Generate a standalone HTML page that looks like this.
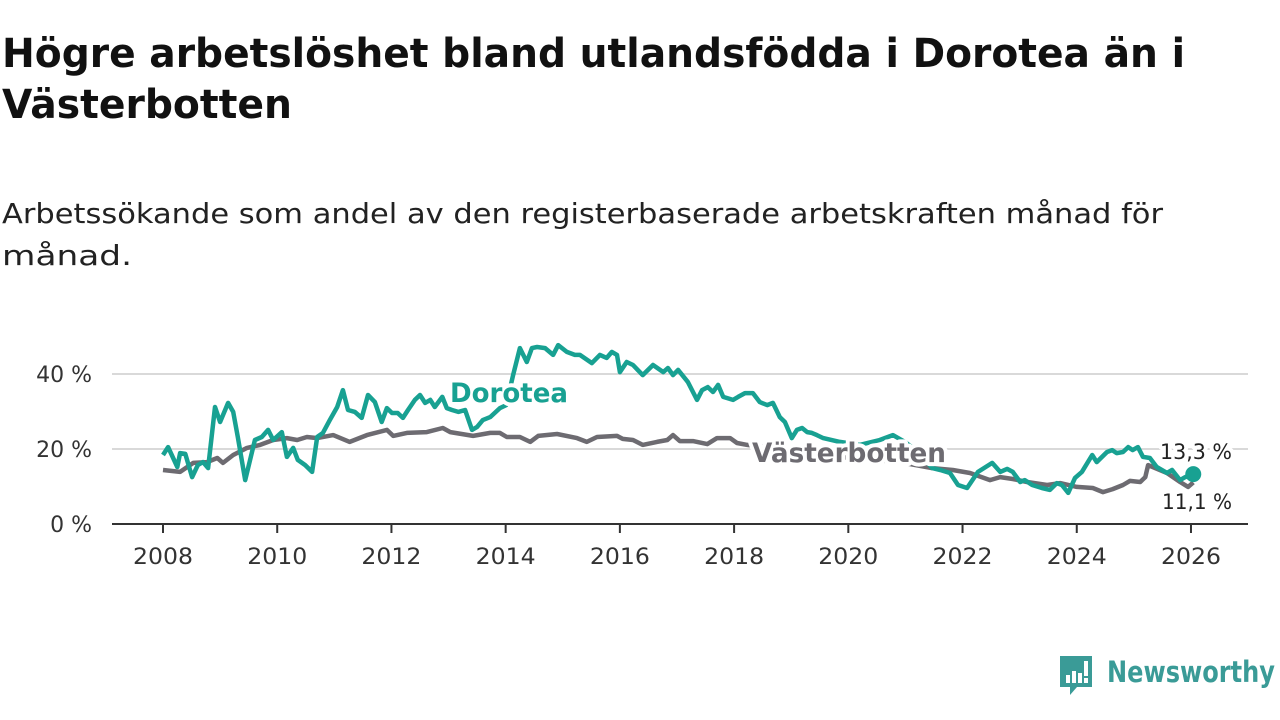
<!DOCTYPE html>
<html><head><meta charset="utf-8"><style>
body{margin:0;width:1280px;height:720px;background:#fff;font-family:"DejaVu Sans","Liberation Sans",sans-serif;overflow:hidden;position:relative}
svg{position:absolute;left:0;top:0}
</style></head><body>
<svg id="chart" width="1280" height="720">
<text x="2" y="67" font-size="40" font-weight="bold" fill="#111" textLength="1183" lengthAdjust="spacingAndGlyphs" font-family="DejaVu Sans, sans-serif">Högre arbetslöshet bland utlandsfödda i Dorotea än i</text>
<text x="2" y="118" font-size="40" font-weight="bold" fill="#111" textLength="290" lengthAdjust="spacingAndGlyphs" font-family="DejaVu Sans, sans-serif">Västerbotten</text>
<text x="2" y="223" font-size="28" fill="#222" textLength="1161" lengthAdjust="spacingAndGlyphs" font-family="DejaVu Sans, sans-serif">Arbetssökande som andel av den registerbaserade arbetskraften månad för</text>
<text x="2" y="265" font-size="28" fill="#222" textLength="130" lengthAdjust="spacingAndGlyphs" font-family="DejaVu Sans, sans-serif">månad.</text>
</svg>
<div style="position:absolute;left:1058px;top:653px;width:222px;height:45px">
<svg width="40" height="44" style="position:absolute;left:0;top:0"><path d="M2 3h32v31h-15l-7 8v-8h-10z" fill="#3a9b97"/><rect x="8" y="22" width="4" height="8" fill="#fff"/><rect x="14" y="18" width="4" height="12" fill="#fff"/><rect x="20" y="20" width="4" height="10" fill="#fff"/><rect x="26" y="8" width="4" height="15" fill="#fff"/><rect x="26" y="25" width="4" height="5" fill="#fff"/></svg>
<svg width="180" height="45" style="position:absolute;left:48px;top:0"><text x="1" y="29" font-size="29" font-weight="bold" fill="#3a9b97" textLength="168" lengthAdjust="spacingAndGlyphs" font-family="DejaVu Sans, sans-serif">Newsworthy</text></svg>
</div>
<script>
const yearTicks=[2008,2010,2012,2014,2016,2018,2020,2022,2024,2026];
const valueTicks=[0,20,40];
const doroteaDates=[2008.0,2008.09,2008.25,2008.30,2008.39,2008.51,2008.61,2008.70,2008.79,2008.91,2009.00,2009.14,2009.23,2009.31,2009.44,2009.61,2009.73,2009.84,2009.93,2010.08,2010.17,2010.28,2010.36,2010.49,2010.61,2010.70,2010.80,2010.92,2011.05,2011.15,2011.24,2011.36,2011.48,2011.59,2011.71,2011.83,2011.92,2012.01,2012.11,2012.20,2012.29,2012.41,2012.50,2012.59,2012.68,2012.76,2012.89,2012.97,2013.06,2013.17,2013.29,2013.41,2013.50,2013.60,2013.73,2013.90,2014.01,2014.13,2014.25,2014.37,2014.46,2014.55,2014.69,2014.83,2014.92,2015.07,2015.21,2015.30,2015.51,2015.65,2015.77,2015.86,2015.95,2016.00,2016.12,2016.23,2016.40,2016.58,2016.76,2016.84,2016.93,2017.02,2017.19,2017.35,2017.44,2017.54,2017.63,2017.72,2017.81,2017.98,2018.07,2018.19,2018.33,2018.45,2018.58,2018.68,2018.80,2018.89,2019.01,2019.10,2019.19,2019.28,2019.36,2019.45,2019.56,2019.85,2020.20,2020.55,2020.78,2020.99,2021.22,2021.47,2021.61,2021.78,2021.92,2022.08,2022.27,2022.52,2022.66,2022.78,2022.88,2023.01,2023.09,2023.22,2023.39,2023.53,2023.65,2023.74,2023.85,2023.97,2024.09,2024.27,2024.35,2024.53,2024.62,2024.70,2024.81,2024.90,2024.98,2025.07,2025.16,2025.28,2025.40,2025.58,2025.67,2025.81,2025.90,2026.04];
const doroteaValues=[18.4,20.5,15.2,18.9,18.7,12.5,15.7,16.5,14.9,31.2,27.2,32.3,29.9,23.2,11.7,22.4,23.2,25.1,22.4,24.5,17.9,20.3,17.1,15.7,13.9,23.2,24.3,27.7,31.2,35.7,30.4,29.9,28.3,34.4,32.5,27.2,30.9,29.6,29.6,28.3,30.4,33.1,34.4,32.3,33.1,31.2,33.9,30.9,30.4,29.9,30.4,25.1,25.9,27.7,28.5,30.9,31.7,39.7,46.9,43.2,46.9,47.2,46.9,45.1,47.7,45.9,45.1,45.1,42.9,45.1,44.3,45.9,45.1,40.5,43.2,42.4,39.7,42.4,40.5,41.6,39.7,41.1,37.9,33.1,35.7,36.5,35.2,37.1,33.9,33.1,33.9,34.9,34.9,32.5,31.7,32.3,28.5,27.2,22.9,25.1,25.6,24.5,24.3,23.7,22.9,21.9,21.1,22.4,23.7,21.9,19.2,14.9,14.4,13.6,10.4,9.6,13.9,16.3,13.9,14.7,13.9,11.2,11.7,10.4,9.6,9.1,10.9,10.4,8.3,12.3,13.9,18.4,16.5,19.2,19.7,18.9,19.2,20.5,19.7,20.5,17.9,17.6,15.2,13.6,14.4,11.7,12.5,13.3];
const vbDates=[2008.0,2008.30,2008.53,2008.77,2008.95,2009.05,2009.23,2009.47,2009.70,2009.93,2010.17,2010.35,2010.52,2010.70,2010.98,2011.27,2011.57,2011.92,2012.03,2012.27,2012.62,2012.90,2013.03,2013.43,2013.73,2013.90,2014.02,2014.25,2014.43,2014.57,2014.90,2015.25,2015.42,2015.60,2015.95,2016.05,2016.23,2016.40,2016.65,2016.83,2016.93,2017.05,2017.28,2017.53,2017.70,2017.93,2018.05,2018.23,2019.15,2020.03,2020.90,2021.47,2021.83,2022.13,2022.48,2022.66,2022.88,2023.13,2023.48,2023.71,2024.00,2024.28,2024.46,2024.63,2024.81,2024.93,2025.11,2025.20,2025.25,2025.33,2025.58,2025.81,2025.95,2026.04];
const vbValues=[14.4,13.9,16.3,16.5,17.6,16.3,18.4,20.3,21.1,22.4,22.9,22.4,23.2,22.9,23.7,21.9,23.7,25.1,23.5,24.3,24.5,25.6,24.5,23.5,24.3,24.3,23.2,23.2,21.9,23.5,24.0,22.9,21.9,23.2,23.5,22.7,22.4,21.1,21.9,22.4,23.7,22.1,22.1,21.3,22.9,22.9,21.6,21.1,19.2,17.6,16.5,14.9,14.4,13.6,11.7,12.5,12.0,11.2,10.4,10.9,9.9,9.6,8.5,9.3,10.4,11.5,11.2,12.5,15.7,15.2,13.6,11.2,9.9,11.1];
const NS="http://www.w3.org/2000/svg";
const svg=document.getElementById('chart');
const X=y=>163+(y-2008)*57.11;
const Y=v=>524-v*3.75;
function mk(tag,attrs,parent){const e=document.createElementNS(NS,tag);for(const k in attrs)e.setAttribute(k,attrs[k]);(parent||svg).appendChild(e);return e;}
valueTicks.forEach(v=>{
 if(v>0){const g=mk('line',{x1:112,x2:1248,y1:Y(v),y2:Y(v),stroke:'#d9d9d9','stroke-width':2});
 
 }
 const t=mk('text',{x:92,y:Y(v)+8,'text-anchor':'end','font-size':22,fill:'#333','font-family':'DejaVu Sans, sans-serif'});
 t.textContent=v+' %';
 
 
});
yearTicks.forEach(y=>{
 const l=mk('line',{x1:X(y),x2:X(y),y1:524,y2:533,stroke:'#333','stroke-width':2});
 
 
 const t=mk('text',{x:X(y)-30,y:564,'font-size':22,fill:'#333','font-family':'DejaVu Sans, sans-serif',textLength:60,lengthAdjust:'spacingAndGlyphs'});
 t.textContent=y;
 
 
});
const ax=mk('line',{x1:112,x2:1248,y1:524,y2:524,stroke:'#333','stroke-width':2});


function path(dates,vals,color,name){
 const d=dates.map((t,i)=>(i?'L':'M')+X(t).toFixed(1)+','+Y(vals[i]).toFixed(1)).join('');
 const p=mk('path',{d:d,fill:'none',stroke:color,'stroke-width':4.5,'stroke-linejoin':'round'});
 
 
}
path(vbDates,vbValues,'#6d6b71','vasterbotten-line');
path(doroteaDates,doroteaValues,'#18a192','dorotea-line');
const dot=mk('circle',{cx:X(doroteaDates[doroteaDates.length-1]),cy:Y(doroteaValues[doroteaValues.length-1]),r:8,fill:'#18a192'});


function label(x,y,txt,color,size,weight,w,name){
 const t=mk('text',{x:x,y:y,'font-size':size,'font-weight':weight,fill:color,stroke:'#fff','stroke-width':8,'paint-order':'stroke','stroke-linejoin':'round','font-family':'DejaVu Sans, sans-serif',textLength:w,lengthAdjust:'spacingAndGlyphs'});
 t.textContent=txt;
 
 
}
label(450,402,'Dorotea','#18a192',27,'bold',118,'dorotea-label');
label(752,462,'Västerbotten','#6d6b71',27,'bold',194,'vasterbotten-label');
label(1160,459,'13,3 %','#222',21,'normal',72,'dorotea-end-value');
label(1162,509,'11,1 %','#222',21,'normal',70,'vasterbotten-end-value');
</script>
</body></html>
